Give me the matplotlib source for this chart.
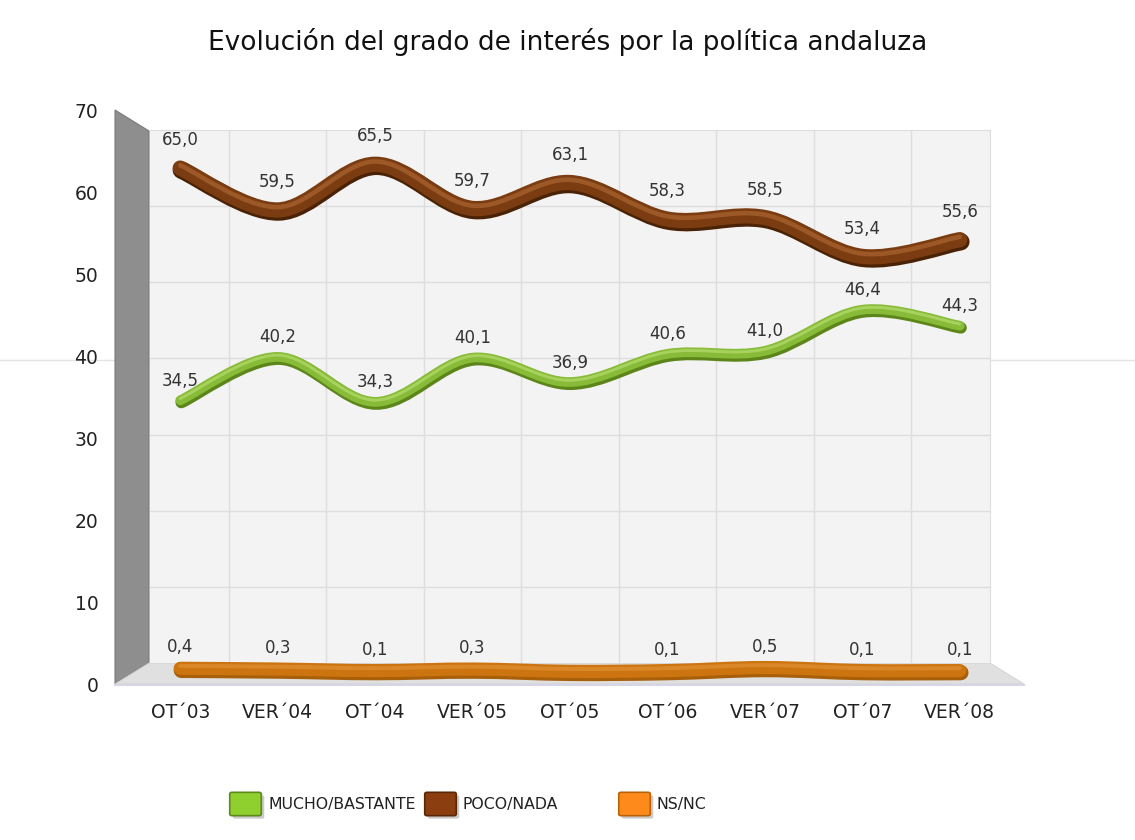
import matplotlib
matplotlib.use("Agg")
import matplotlib.pyplot as plt
from matplotlib.path import Path
from matplotlib.patches import PathPatch, Polygon, FancyBboxPatch
from matplotlib.transforms import offset_copy
from matplotlib.lines import Line2D
import numpy as np

title = "Evolución del grado de interés por la política andaluza"
categories = ["OT´03", "VER´04", "OT´04", "VER´05", "OT´05", "OT´06", "VER´07", "OT´07", "VER´08"]
mucho_bastante = [34.5, 40.2, 34.3, 40.1, 36.9, 40.6, 41.0, 46.4, 44.3]
poco_nada = [65.0, 59.5, 65.5, 59.7, 63.1, 58.3, 58.5, 53.4, 55.6]
ns_nc = [0.4, 0.3, 0.1, 0.3, 0.0, 0.1, 0.5, 0.1, 0.1]
series_names = ["MUCHO/BASTANTE", "POCO/NADA", "NS/NC"]
yticks = [0, 10, 20, 30, 40, 50, 60, 70]

W, H = 1135, 840
fig = plt.figure(figsize=(W / 100, H / 100), dpi=100)
fig.patch.set_facecolor("white")

def fx(px):
    return px / W

def fy(py):
    return 1 - py / H

# faint screenshot artifact line
fig.add_artist(Line2D([0, 1], [fy(360), fy(360)], color="#e4e4e4", lw=1, transform=fig.transFigure, zorder=0))

# back wall axes
ax = fig.add_axes([fx(150), fy(663), fx(990) - fx(150), fy(130) - fy(663)])
ax.set_zorder(3)
ax.set_facecolor("#f3f3f3")
ax.set_ylim(0, 70)
ax.set_xlim(-0.31, 8.31)
ax.set_yticks(yticks[1:-1])
ax.set_yticklabels([])
ax.tick_params(axis="y", length=0)
ax.set_xticks(range(len(categories)))
ax.set_xticklabels(categories, fontsize=13.5, color="#222222")
ax.tick_params(axis="x", length=0, pad=29)
ax.set_xticks(np.arange(0.5, len(categories) - 1, 1.0), minor=True)
ax.tick_params(axis="x", which="minor", length=0)
ax.grid(True, axis="y", color="#dddddd", lw=1)
ax.grid(True, axis="x", which="minor", color="#dddddd", lw=1)
ax.grid(False, axis="x", which="major")
for s in ax.spines.values():
    s.set_color("#dddddd")
ax.spines["bottom"].set_visible(False)
ax.spines["left"].set_visible(False)

# left wall and floor (3D look)
wall = Polygon([(fx(115), fy(110)), (fx(149), fy(131)), (fx(149), fy(663)), (fx(115), fy(684))],
               closed=True, facecolor="#8e8e8e", edgecolor="#7a7a7a", lw=0.8, transform=fig.transFigure, zorder=1)
fig.add_artist(wall)
floor = Polygon([(fx(115), fy(684)), (fx(149), fy(663)), (fx(990), fy(663)), (fx(1024), fy(684))],
                closed=True, facecolor="#e0e0e0", edgecolor="#d0d0d0", lw=0.6, transform=fig.transFigure, zorder=1)
fig.add_artist(floor)
fig.add_artist(Line2D([fx(115), fx(1024)], [fy(685), fy(685)], color="#d6d6e6", lw=1.5,
                      transform=fig.transFigure, zorder=1))

# y tick labels along front edge
ax2 = fig.add_axes([fx(115), fy(684), 0.0001, fy(110) - fy(684)])
ax2.set_ylim(0, 70)
ax2.set_yticks(yticks)
ax2.set_yticklabels([str(v) for v in yticks], fontsize=13.5, color="#222222")
ax2.tick_params(axis="y", length=0, pad=12)
ax2.set_xticks([])
for s in ax2.spines.values():
    s.set_visible(False)
ax2.patch.set_alpha(0)

def smooth_path(xs, ys):
    pts = np.column_stack([xs, ys]).astype(float)
    n = len(pts)
    verts = [tuple(pts[0])]
    codes = [Path.MOVETO]
    for i in range(n - 1):
        p0 = pts[max(i - 1, 0)]
        p1 = pts[i]
        p2 = pts[i + 1]
        p3 = pts[min(i + 2, n - 1)]
        c1 = p1 + (p2 - p0) / 6.0
        c2 = p2 - (p3 - p1) / 6.0
        verts += [tuple(c1), tuple(c2), tuple(p2)]
        codes += [Path.CURVE4] * 3
    return Path(verts, codes)

def draw_tube(values, lw, edge, body, hi, dy_pt, label_off_pt):
    xs = np.arange(len(values))
    path = smooth_path(xs, values)
    base = offset_copy(ax.transData, fig=fig, x=0, y=dy_pt, units="points")
    shadow = offset_copy(ax.transData, fig=fig, x=0.8, y=dy_pt - 1.5, units="points")
    hl = offset_copy(ax.transData, fig=fig, x=0, y=dy_pt + lw * 0.18, units="points")
    ax.add_patch(PathPatch(path, fill=False, lw=lw + 1.5, edgecolor=edge, capstyle="round",
                           joinstyle="round", transform=shadow, zorder=3, clip_on=False))
    ax.add_patch(PathPatch(path, fill=False, lw=lw, edgecolor=body, capstyle="round",
                           joinstyle="round", transform=base, zorder=4, clip_on=False))
    ax.add_patch(PathPatch(path, fill=False, lw=lw * 0.3, edgecolor=hi, capstyle="round",
                           joinstyle="round", transform=hl, zorder=5, clip_on=False, alpha=0.8))
    for x, v in zip(xs, values):
        if v <= 0:
            continue
        ax.annotate(f"{v:.1f}".replace(".", ","), (x, v), xytext=(0, dy_pt + label_off_pt),
                    textcoords="offset points", ha="center", va="center", fontsize=12,
                    color="#333333", zorder=6, annotation_clip=False)

draw_tube(ns_nc, 9.5, "#a85f0a", "#cc740f", "#de8c30", -6, 15)
draw_tube(mucho_bastante, 7, "#5c861a", "#88bb37", "#b0d868", 0, 14)
draw_tube(poco_nada, 11, "#4a2206", "#7a3c10", "#a5602e", 0, 20)

# title
fig.text(0.5, fy(42), title, ha="center", va="center", fontsize=19, color="#111111")

# legend
legend_items = [
    (series_names[0], "#8fcf2e", "#5e8a1c", 232, 268),
    (series_names[1], "#8b3e10", "#5a2806", 427, 463),
    (series_names[2], "#ff8a1c", "#b8620a", 621, 657),
]
for name, fc, ec, bx, tx in legend_items:
    fig.add_artist(FancyBboxPatch((fx(bx + 3), fy(817)), fx(27), 20 / H,
                                  boxstyle="round,pad=0.002", facecolor="#999999", edgecolor="none",
                                  transform=fig.transFigure, zorder=2, alpha=0.5))
    fig.add_artist(FancyBboxPatch((fx(bx), fy(814)), fx(27), 20 / H,
                                  boxstyle="round,pad=0.002", facecolor=fc, edgecolor=ec, lw=1.2,
                                  transform=fig.transFigure, zorder=3))
    fig.text(fx(tx), fy(804), name, ha="left", va="center", fontsize=11.3, color="#222222")

fig.savefig("out.png", dpi=100)
